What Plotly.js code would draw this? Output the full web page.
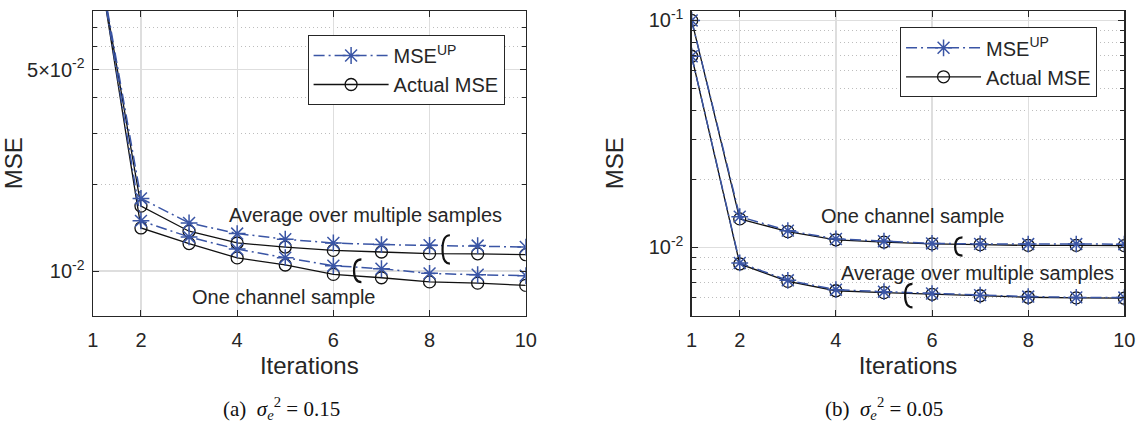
<!DOCTYPE html>
<html><head><meta charset="utf-8">
<script src="https://cdn.plot.ly/plotly-3.0.1.min.js"></script>
<style>html,body{margin:0;padding:0;background:#fff}#chart{width:1138px;height:425px}</style>
</head><body><div id="chart"></div>
<script>
// ---------- data ----------
const iterations = [1, 2, 3, 4, 5, 6, 7, 8, 9, 10];
const xTickVals = [1, 2, 4, 6, 8, 10];

// (a) sigma_e^2 = 0.15
const a_avg_up     = [0.155, 0.01788, 0.0147, 0.0135, 0.0129, 0.01252, 0.01236, 0.01229, 0.01226, 0.01212];
const a_avg_actual = [0.155, 0.01681, 0.01375, 0.01252, 0.01212, 0.0118, 0.01165, 0.0115, 0.01148, 0.0114];
const a_one_up     = [0.158, 0.01494, 0.01314, 0.01192, 0.01113, 0.01044, 0.01019, 0.00982, 0.00971, 0.00964];
const a_one_actual = [0.158, 0.01412, 0.01246, 0.01111, 0.0105, 0.00974, 0.00948, 0.00917, 0.00908, 0.00892];

// (b) sigma_e^2 = 0.05
const b_one_up     = [0.1, 0.01366, 0.01185, 0.01089, 0.01065, 0.01041, 0.01036, 0.01034, 0.01034, 0.01033];
const b_one_actual = [0.1, 0.01335, 0.01173, 0.0108, 0.01055, 0.01036, 0.01028, 0.0102, 0.0102, 0.01018];
const b_avg_up     = [0.0695, 0.00854, 0.00716, 0.00651, 0.00638, 0.00626, 0.00616, 0.00607, 0.00602, 0.00601];
const b_avg_actual = [0.0695, 0.00845, 0.00708, 0.00644, 0.00632, 0.00621, 0.00612, 0.00603, 0.00599, 0.00597];

// tick labels
const a_yTickVals = [0.01, 0.05];
const a_yTickText = ['10<sup>-2</sup>', '5×10<sup>-2</sup>'];
const a_yMinor    = [0.02, 0.03, 0.04, 0.06, 0.07];
const b_yTickVals = [0.01, 0.1];
const b_yTickText = ['10<sup>-2</sup>', '10<sup>-1</sup>'];
const b_yMinor    = [0.006, 0.007, 0.008, 0.009, 0.02, 0.03, 0.04, 0.05, 0.06, 0.07, 0.08, 0.09];

// text labels
const groupLabels = ['Average over multiple samples', 'One channel sample'];
const legendNames = ['MSE<sup>UP</sup>', 'Actual MSE'];
const captions = ['(a)  <i>σ</i><sub><i>e</i></sub><sup>2</sup> = 0.15', '(b)  <i>σ</i><sub><i>e</i></sub><sup>2</sup> = 0.05'];

// ---------- style ----------
const BLUE = '#3a55a5';
const DARK = '#262626';
const FONT = 'Liberation Sans, Arial, sans-serif';

function upTrace(y, xa, ya, show, leg) {
  return {x: iterations, y: y, xaxis: xa, yaxis: ya, type: 'scatter', mode: 'lines+markers',
    name: legendNames[0], legend: leg, showlegend: show, legendrank: 1,
    line: {color: BLUE, width: 1.5, dash: '11px,4px,2px,4px'},
    marker: {symbol: 'asterisk-open', size: 14, color: BLUE, line: {color: BLUE, width: 1.5}}};
}
function actTrace(y, xa, ya, show, leg) {
  return {x: iterations, y: y, xaxis: xa, yaxis: ya, type: 'scatter', mode: 'lines+markers',
    name: legendNames[1], legend: leg, showlegend: show, legendrank: 2,
    line: {color: '#111', width: 1.3},
    marker: {symbol: 'circle-open', size: 12, color: '#111', line: {color: '#111', width: 1.3}}};
}

const data = [
  actTrace(a_avg_actual, 'x', 'y', true, 'legend'),
  actTrace(a_one_actual, 'x', 'y', false, 'legend'),
  upTrace(a_avg_up, 'x', 'y', true, 'legend'),
  upTrace(a_one_up, 'x', 'y', false, 'legend'),
  actTrace(b_one_actual, 'x2', 'y2', true, 'legend2'),
  actTrace(b_avg_actual, 'x2', 'y2', false, 'legend2'),
  upTrace(b_one_up, 'x2', 'y2', true, 'legend2'),
  upTrace(b_avg_up, 'x2', 'y2', false, 'legend2')
];

function xAxis(domain, anchor) {
  return {domain: domain, anchor: anchor, range: [1, 10], tickmode: 'array', tickvals: xTickVals,
    ticks: 'inside', ticklen: 6, tickcolor: DARK, tickwidth: 1, mirror: 'allticks', showline: true,
    linecolor: DARK, linewidth: 1.3, showgrid: true, gridcolor: '#dedede', gridwidth: 1.3, zeroline: false,
    tickfont: {family: FONT, size: 20, color: DARK}, ticklabelstandoff: 6,
    automargin: false,
    title: {text: 'Iterations', font: {family: FONT, size: 24, color: DARK}, standoff: 7}};
}
function yAxis(domain, anchor, range, tv, tt, minor, titleStandoff) {
  return {domain: domain, anchor: anchor, type: 'log', range: range, tickmode: 'array', tickvals: tv, ticktext: tt,
    ticks: 'inside', ticklen: 6, tickcolor: DARK, tickwidth: 1, mirror: 'allticks', showline: true,
    linecolor: DARK, linewidth: 1.3, showgrid: true, gridcolor: '#dedede', gridwidth: 1.3, zeroline: false,
    tickfont: {family: FONT, size: 20, color: DARK}, ticklabelstandoff: 3,
    minor: {tickmode: 'array', tickvals: minor, ticks: 'inside', ticklen: 4, tickcolor: DARK,
      showgrid: true, gridcolor: '#bdbdbd', griddash: '1px,3px', gridwidth: 1},
    automargin: false,
    title: {text: 'MSE', font: {family: FONT, size: 24, color: DARK}, standoff: titleStandoff}};
}

const yDom = [0.2572, 0.9741];
const layout = {
  width: 1138, height: 425, margin: {l: 0, r: 0, t: 0, b: 0},
  paper_bgcolor: '#fff', plot_bgcolor: '#fff',
  font: {family: FONT, color: DARK},
  xaxis: xAxis([0.0816, 0.4620], 'y'),
  yaxis: yAxis(yDom, 'x', [Math.log10(0.007), Math.log10(0.08)], a_yTickVals, a_yTickText, a_yMinor, 0),
  xaxis2: xAxis([0.6078, 0.9880], 'y2'),
  yaxis2: yAxis(yDom, 'x2', [Math.log10(0.005), Math.log10(0.11)], b_yTickVals, b_yTickText, b_yMinor, 18),
  legend: {x: 0.2703, y: 0.9176, xanchor: 'left', yanchor: 'top', bgcolor: '#fff', bordercolor: DARK,
    borderwidth: 1, font: {family: FONT, size: 20, color: DARK}, itemwidth: 75, tracegroupgap: 0},
  legend2: {x: 0.7909, y: 0.9358, xanchor: 'left', yanchor: 'top', bgcolor: '#fff', bordercolor: DARK,
    borderwidth: 1, font: {family: FONT, size: 20, color: DARK}, itemwidth: 75, tracegroupgap: 0},
  annotations: [],
  shapes: []
};

// group labels
const textFont = {family: FONT, size: 20, color: DARK};
const groupLabelPos = [
  {xref: 'x', yref: 'y', x: 6.66, v: 0.01563, t: groupLabels[0]},
  {xref: 'x', yref: 'y', x: 4.96, v: 0.00816, t: groupLabels[1]},
  {xref: 'x2', yref: 'y2', x: 5.6, v: 0.0138, t: groupLabels[1]},
  {xref: 'x2', yref: 'y2', x: 6.95, v: 0.00768, t: groupLabels[0]}
];
groupLabelPos.forEach(p => layout.annotations.push({xref: p.xref, yref: p.yref, x: p.x, y: Math.log10(p.v),
  text: p.t, showarrow: false, font: textFont, xanchor: 'center', yanchor: 'middle'}));

// captions
const capFont = {family: 'Liberation Serif, Times New Roman, serif', size: 21, color: '#111'};
layout.annotations.push({xref: 'paper', yref: 'paper', x: 0.247, y: 0.038, text: captions[0], showarrow: false,
  font: capFont, xanchor: 'center', yanchor: 'middle'});
layout.annotations.push({xref: 'paper', yref: 'paper', x: 0.777, y: 0.038, text: captions[1], showarrow: false,
  font: capFont, xanchor: 'center', yanchor: 'middle'});

// braces grouping each pair of curves
const braces = [
  {xref: 'x', yref: 'y', x: 8.36, top: 0.01332, bot: 0.01061},
  {xref: 'x', yref: 'y', x: 6.52, top: 0.01098, bot: 0.00916},
  {xref: 'x2', yref: 'y2', x: 6.57, top: 0.01107, bot: 0.00919},
  {xref: 'x2', yref: 'y2', x: 5.53, top: 0.00691, bot: 0.00544}
];
braces.forEach(b => {
  const w = 0.09, mid = Math.sqrt(b.top * b.bot);
  const path = `M ${b.x + w * 0.7},${b.top} Q ${b.x - w},${b.top} ${b.x - w},${mid} Q ${b.x - w},${b.bot} ${b.x + w * 0.7},${b.bot}`;
  layout.shapes.push({type: 'path', xref: b.xref, yref: b.yref, path: path, line: {color: '#111', width: 2.2}});
});

Plotly.newPlot('chart', data, layout, {staticPlot: true, displayModeBar: false});
</script>
</body></html>
